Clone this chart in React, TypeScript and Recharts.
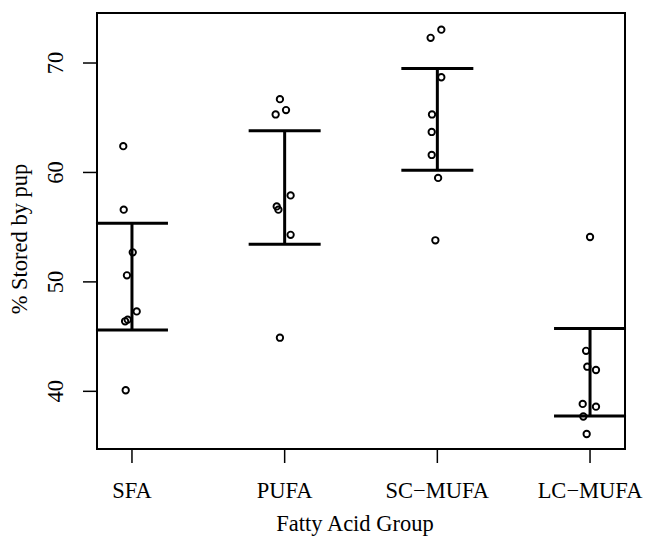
import React from 'react';
import {
  ComposedChart,
  Scatter,
  XAxis,
  YAxis,
  ErrorBar,
  ReferenceArea,
} from 'recharts';

// Category labels and their positions on the x axis
const categories = ['SFA', 'PUFA', 'SC\u2212MUFA', 'LC\u2212MUFA'];
const categoryPos = [1, 2, 3, 4];
const yTicks = [40, 50, 60, 70];

// Individual (jittered) observations, % stored by pup
const sfaX = [0.943, 0.946, 1.005, 0.967, 1.031, 0.955, 0.972, 0.959];
const sfaY = [62.4, 56.6, 52.7, 50.6, 47.3, 46.4, 46.55, 40.1];
const pufaX = [1.969, 1.941, 2.009, 2.039, 1.948, 1.959, 2.039, 1.969];
const pufaY = [66.7, 65.3, 65.7, 57.9, 56.9, 56.6, 54.3, 44.9];
const scX = [2.956, 3.026, 3.026, 2.965, 2.963, 2.963, 3.005, 2.987];
const scY = [72.3, 73.05, 68.7, 65.3, 63.7, 61.6, 59.5, 53.8];
const lcX = [4.0, 3.974, 3.982, 4.039, 3.952, 4.039, 3.956, 3.978];
const lcY = [54.1, 43.7, 42.25, 41.95, 38.85, 38.6, 37.7, 36.1];

// Interval limits per group
const lower = [45.6, 53.45, 60.2, 37.75];
const upper = [55.35, 63.8, 69.5, 45.75];

const xDomain = [0.771, 4.229];
const yDomain = [34.73, 74.57];

const FONT = 'Liberation Serif, Times New Roman, serif';

const points = [
  ...sfaX.map((x, i) => ({ x, y: sfaY[i] })),
  ...pufaX.map((x, i) => ({ x, y: pufaY[i] })),
  ...scX.map((x, i) => ({ x, y: scY[i] })),
  ...lcX.map((x, i) => ({ x, y: lcY[i] })),
];

const intervals = categoryPos.map((x, i) => ({
  x,
  y: (lower[i] + upper[i]) / 2,
  err: (upper[i] - lower[i]) / 2,
}));

const textStyle = { fill: '#000', fontFamily: FONT, fontSize: 22.5 };

const XTick = (props: any) => {
  const { x, y, payload } = props;
  const idx = categoryPos.indexOf(payload.value);
  return (
    <text x={x} y={y + 33} textAnchor="middle" style={textStyle}>
      {idx >= 0 ? categories[idx] : ''}
    </text>
  );
};

const YTick = (props: any) => {
  const { x, y, payload } = props;
  const bx = x - 18;
  return (
    <text
      x={bx}
      y={y}
      transform={`rotate(-90, ${bx}, ${y})`}
      textAnchor="middle"
      style={textStyle}
    >
      {payload.value}
    </text>
  );
};

const OpenCircle = (props: any) => {
  const { cx, cy } = props;
  return <circle cx={cx} cy={cy} r={3.2} fill="none" stroke="#000" strokeWidth={1.9} />;
};

const Nothing = () => <g />;

export default function App() {
  return (
    <div style={{ position: 'absolute', left: 0, top: 0 }}>
      <ComposedChart
        width={648}
        height={537}
        margin={{ top: 13, right: 23, bottom: 0, left: 0 }}
      >
        <XAxis
          dataKey="x"
          type="number"
          domain={xDomain}
          allowDataOverflow
          ticks={categoryPos}
          tick={<XTick />}
          tickSize={14}
          tickLine={{ stroke: '#000', strokeWidth: 1.5 }}
          axisLine={false}
          height={88}
          label={(p: any) => {
            const vb = p.viewBox || {};
            return (
              <text
                x={(vb.x ?? 97) + (vb.width ?? 528) / 2 - 6}
                y={531}
                textAnchor="middle"
                style={textStyle}
              >
                Fatty Acid Group
              </text>
            );
          }}
        />
        <YAxis
          dataKey="y"
          type="number"
          domain={yDomain}
          allowDataOverflow
          ticks={yTicks}
          tick={<YTick />}
          tickSize={14}
          tickLine={{ stroke: '#000', strokeWidth: 1.5 }}
          axisLine={false}
          width={97}
          label={(p: any) => {
            const vb = p.viewBox || {};
            const cy = (vb.y ?? 13) + (vb.height ?? 436) / 2 + 8;
            return (
              <text
                x={27}
                y={cy}
                transform={`rotate(-90, 27, ${cy})`}
                textAnchor="middle"
                style={textStyle}
              >
                % Stored by pup
              </text>
            );
          }}
        />
        <ReferenceArea
          x1={xDomain[0]}
          x2={xDomain[1]}
          y1={yDomain[0]}
          y2={yDomain[1]}
          fill="none"
          fillOpacity={0}
          stroke="#000"
          strokeWidth={2}
          ifOverflow="visible"
        />
        <Scatter
          data={intervals}
          dataKey="y"
          shape={<Nothing />}
          isAnimationActive={false}
        >
          <ErrorBar
            dataKey="err"
            direction="y"
            width={36}
            stroke="#000"
            strokeWidth={3}
            isAnimationActive={false}
          />
        </Scatter>
        <Scatter
          data={points}
          dataKey="y"
          shape={<OpenCircle />}
          isAnimationActive={false}
        />
      </ComposedChart>
    </div>
  );
}
